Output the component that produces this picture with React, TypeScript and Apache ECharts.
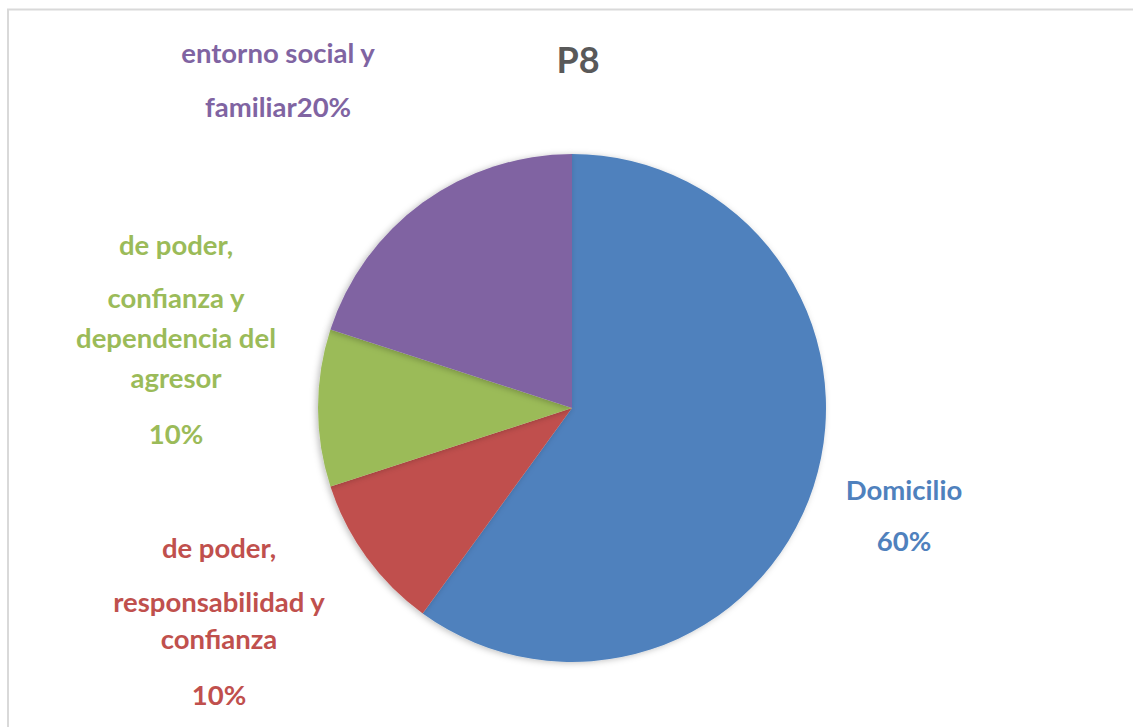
import React, { useEffect, useRef } from "react";
import * as echarts from "echarts";

const title = "P8";
const categories = [
  "Domicilio",
  "de poder, responsabilidad y confianza",
  "de poder, confianza y dependencia del agresor",
  "entorno social y familiar",
];
const values = [60, 10, 10, 20];
const colors = ["#4F81BD", "#C0504D", "#9BBB59", "#8064A2"];

const FONT = "Lato";
const FS = 27.5;

export default function App() {
  const ref = useRef<HTMLDivElement>(null);
  useEffect(() => {
    if (!ref.current) return;
    const chart = echarts.init(ref.current, undefined, { renderer: "svg" });

    const formatters = [
      (p: any) => `{a|${p.name}}\n{a|${Math.round(p.percent)}%}`,
      (p: any) =>
        `{h1|de poder,}\n{m|responsabilidad y}\n{m|confianza}\n{h2|${Math.round(p.percent)}%}`,
      (p: any) =>
        `{g1|de poder,}\n{g|confianza y}\n{g|dependencia del}\n{g|agresor}\n{g2|${Math.round(p.percent)}%}`,
      (p: any) => `{p|entorno social y}\n{p|familiar${Math.round(p.percent)}%}`,
    ];
    const base = { fontFamily: FONT, fontWeight: "bold" as const, fontSize: FS, align: "center" as const };
    const richFor = (c: string) => ({
      a: { ...base, color: c, lineHeight: 51 },
      h1: { ...base, color: c, lineHeight: 71 },
      m: { ...base, color: c, lineHeight: 37 },
      h2: { ...base, color: c, lineHeight: 75 },
      g1: { ...base, color: c, lineHeight: 66 },
      g: { ...base, color: c, lineHeight: 40 },
      g2: { ...base, color: c, lineHeight: 72 },
      p: { ...base, color: c, lineHeight: 54 },
    });
    const labelPos = [
      { x: 904, y: 515 },
      { x: 219, y: 622 },
      { x: 176, y: 340 },
      { x: 278, y: 79 },
    ];

    chart.setOption({
      animation: false,
      backgroundColor: "#ffffff",
      title: {
        text: title,
        left: 573,
        top: 36,
        textAlign: "center",
        textStyle: { fontFamily: FONT, fontWeight: "bold", fontSize: 36, color: "#595959" },
      },
      graphic: [
        {
          type: "rect",
          shape: { x: 8, y: 9.5, width: 1300, height: 900 },
          style: { fill: "none", stroke: "#d9d9d9", lineWidth: 2 },
          silent: true,
        },
      ],
      series: [
        {
          type: "pie",
          center: [572, 408],
          radius: 254,
          startAngle: 90,
          clockwise: true,
          avoidLabelOverlap: false,
          labelLine: { show: false },
          itemStyle: {
            shadowBlur: 6,
            shadowColor: "rgba(0,0,0,0.25)",
            shadowOffsetX: -2,
            shadowOffsetY: 1,
          },
          data: categories.map((name, i) => ({
            name,
            value: values[i],
            itemStyle: { color: colors[i] },
            label: {
              show: true,
              position: "outside",
              formatter: formatters[i],
              rich: richFor(colors[i]),
            },
          })),
          labelLayout: (params: any) => {
            const p = labelPos[params.dataIndex];
            return { x: p.x, y: p.y, align: "center", verticalAlign: "middle" };
          },
        },
      ],
    });
    return () => chart.dispose();
  }, []);
  return (
    <div
      ref={ref}
      style={{ position: "fixed", left: 0, top: 0, width: 1133, height: 727, background: "#fff" }}
    />
  );
}
